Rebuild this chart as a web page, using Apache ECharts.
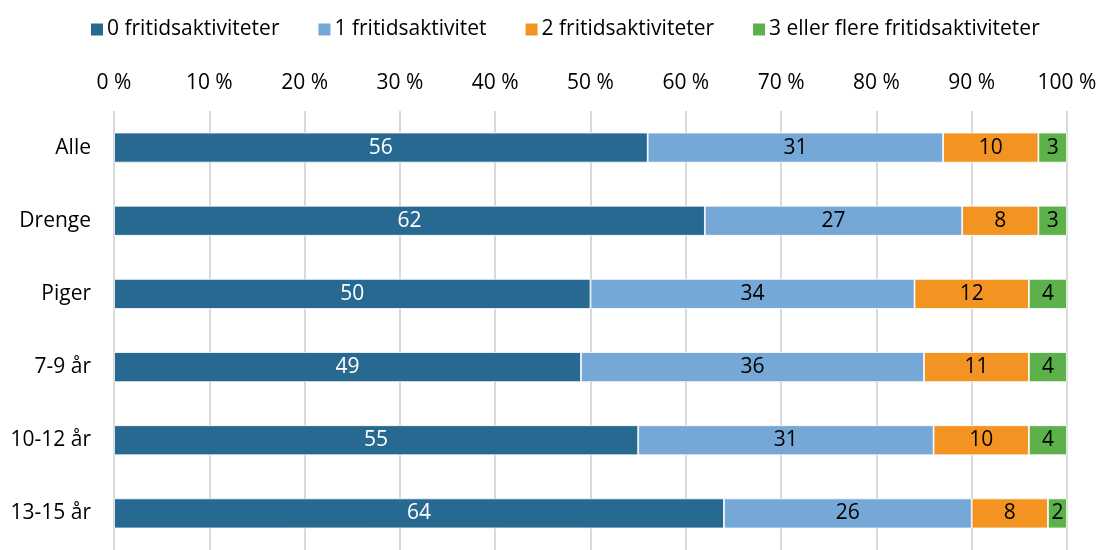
<!DOCTYPE html>
<html>
<head>
<meta charset="utf-8">
<script src="https://cdn.jsdelivr.net/npm/echarts@6/dist/echarts.min.js"></script>
<style>
  html, body { margin: 0; padding: 0; background: #fff; }
  #chart { width: 1100px; height: 550px; }
</style>
</head>
<body>
<div id="chart"></div>
<script>
// categories, top to bottom
const categories = ['Alle', 'Drenge', 'Piger', '7-9 år', '10-12 år', '13-15 år'];
const seriesNames = ['0 fritidsaktiviteter', '1 fritidsaktivitet', '2 fritidsaktiviteter', '3 eller flere fritidsaktiviteter'];
const zero = [56, 62, 50, 49, 55, 64];
const one = [31, 27, 34, 36, 31, 26];
const two = [10, 8, 12, 11, 10, 8];
const threePlus = [3, 3, 4, 4, 4, 2];
const colors = ['#276990', '#75a8d6', '#f39422', '#5db14a'];
const labelColors = ['#fff', '#000', '#000', '#000'];

const font = '"Open Sans", sans-serif';
const fs = 21;
const chart = echarts.init(document.getElementById('chart'));

const values = [zero, one, two, threePlus];
const series = values.map((vals, i) => ({
    name: seriesNames[i],
    type: 'bar',
    stack: 'total',
    barWidth: 30,
    data: vals,
    itemStyle: { color: colors[i], borderColor: '#fff', borderWidth: 0.8 },
    label: {
        show: true,
        position: 'inside',
        color: labelColors[i],
        fontSize: fs,
        fontFamily: font
    }
}));

const option = {
    animation: false,
    color: colors,
    legend: {
        top: 14,
        left: 84,
        itemWidth: 14,
        itemHeight: 14,
        itemGap: 37,
        icon: 'rect',
        textStyle: { fontSize: fs, fontFamily: font, color: '#000', padding: [0, 0, 0, -2] },
        data: seriesNames
    },
    grid: { left: 114, right: 33, top: 111, bottom: -7 },
    xAxis: {
        type: 'value',
        position: 'top',
        min: 0,
        max: 100,
        interval: 10,
        axisLabel: {
            formatter: '{value} %',
            fontSize: fs,
            fontFamily: font,
            color: '#000',
            margin: 17
        },
        axisLine: { show: false },
        axisTick: { show: false },
        splitLine: { lineStyle: { color: '#d9d9d9', width: 2 } }
    },
    yAxis: {
        type: 'category',
        inverse: true,
        data: categories,
        axisLine: { show: false },
        axisTick: { show: false },
        axisLabel: { fontSize: fs, fontFamily: font, color: '#000', margin: 23 }
    },
    series: series
};
chart.setOption(option);
</script>
</body>
</html>
